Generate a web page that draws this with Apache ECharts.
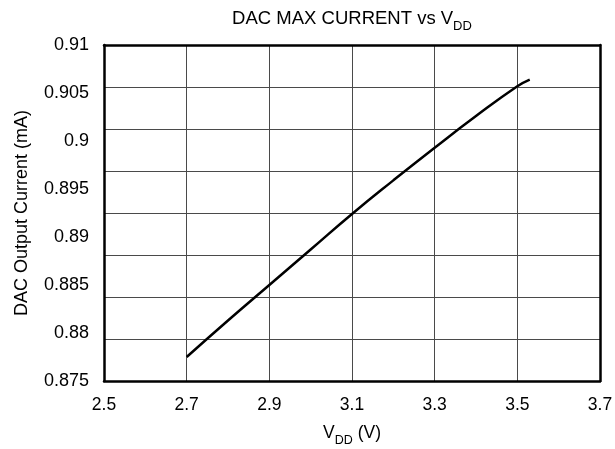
<!DOCTYPE html>
<html>
<head>
<meta charset="utf-8">
<script src="https://cdn.jsdelivr.net/npm/echarts@6/dist/echarts.min.js"></script>
<style>
html,body{margin:0;padding:0;background:#fff;}
#chart{width:615px;height:449px;}
</style>
</head>
<body>
<div id="chart"></div>
<script>
// Data
var vdd = [2.7, 2.8, 2.9, 3.0, 3.1, 3.2, 3.3, 3.4, 3.5, 3.53];
var current = [0.8775, 0.8813, 0.8850, 0.8887, 0.8924, 0.8959, 0.8993, 0.9026, 0.9057, 0.9064];
var xTickLabels = ['2.5', '2.7', '2.9', '3.1', '3.3', '3.5', '3.7'];
var yTickLabels = ['0.875', '0.88', '0.885', '0.89', '0.895', '0.9', '0.905', '0.91'];
var titleMain = 'DAC MAX CURRENT vs V';
var titleSub = 'DD';

var FONT = 'Liberation Sans, Arial, sans-serif';
var chart = echarts.init(document.getElementById('chart'), null, {renderer: 'canvas'});

var seriesData = vdd.map(function (v, i) { return [v, current[i]]; });

var frameLine = {show: true, lineStyle: {color: '#000', width: 2.5}};
var gridSplit = {show: true, showMinLine: false, showMaxLine: false, lineStyle: {color: '#4a4a4a', width: 1}};
function subRich(size, subSize) {
  return {
    a: {fontFamily: FONT, fontSize: size, fontWeight: 'normal', color: '#000', verticalAlign: 'bottom', padding: [0, 0, 5, 0]},
    b: {fontFamily: FONT, fontSize: subSize, fontWeight: 'normal', color: '#000', verticalAlign: 'bottom'}
  };
}

chart.setOption({
  backgroundColor: '#fff',
  animation: false,
  grid: {left: 104, right: 15, top: 45, bottom: 68, containLabel: false, outerBoundsMode: 'none'},
  xAxis: [
    {
      type: 'value', min: 2.5, max: 3.7, interval: 0.1, position: 'bottom',
      axisLine: frameLine, axisTick: {show: false}, splitLine: {show: false},
      axisLabel: {
        fontFamily: FONT, fontSize: 17.5, color: '#000', margin: 15,
        showMinLabel: true, showMaxLabel: true, hideOverlap: false,
        formatter: function (v) {
          var s = v.toFixed(1);
          return xTickLabels.indexOf(s) >= 0 ? s : '';
        }
      },
      name: '{a|V}{b|DD}{a| (V)}',
      nameLocation: 'middle', nameGap: 43,
      nameTextStyle: {fontFamily: FONT, rich: subRich(17.5, 12.5)}
    },
    {
      type: 'value', min: 0, max: xTickLabels.length - 1, interval: 1, position: 'top',
      axisLine: frameLine, axisTick: {show: false}, axisLabel: {show: false},
      splitLine: gridSplit,
      name: '{a|' + titleMain + '}{b|' + titleSub + '}',
      nameLocation: 'middle', nameGap: 12,
      nameTextStyle: {fontFamily: FONT, rich: subRich(18.5, 13)}
    }
  ],
  yAxis: [
    {
      type: 'value', min: 0.875, max: 0.91, interval: 0.005, position: 'left',
      axisLine: frameLine, axisTick: {show: false}, splitLine: {show: false},
      axisLabel: {
        fontFamily: FONT, fontSize: 18, color: '#000', margin: 15,
        showMinLabel: true, showMaxLabel: true, hideOverlap: false,
        formatter: function (v) {
          var s = String(parseFloat(v.toFixed(3)));
          return yTickLabels.indexOf(s) >= 0 ? s : '';
        }
      },
      name: 'DAC Output Current (mA)',
      nameLocation: 'middle', nameGap: 73,
      nameTextStyle: {fontFamily: FONT, fontSize: 18, color: '#000'}
    },
    {
      type: 'value', min: 0, max: 8, interval: 1, position: 'right',
      axisLine: frameLine, axisTick: {show: false}, axisLabel: {show: false},
      splitLine: gridSplit
    }
  ],
  series: [
    {
      type: 'line',
      xAxisIndex: 0, yAxisIndex: 0,
      data: seriesData,
      smooth: true,
      showSymbol: false,
      symbol: 'none',
      lineStyle: {color: '#000', width: 2.5},
      z: 5
    }
  ]
});
</script>
</body>
</html>
